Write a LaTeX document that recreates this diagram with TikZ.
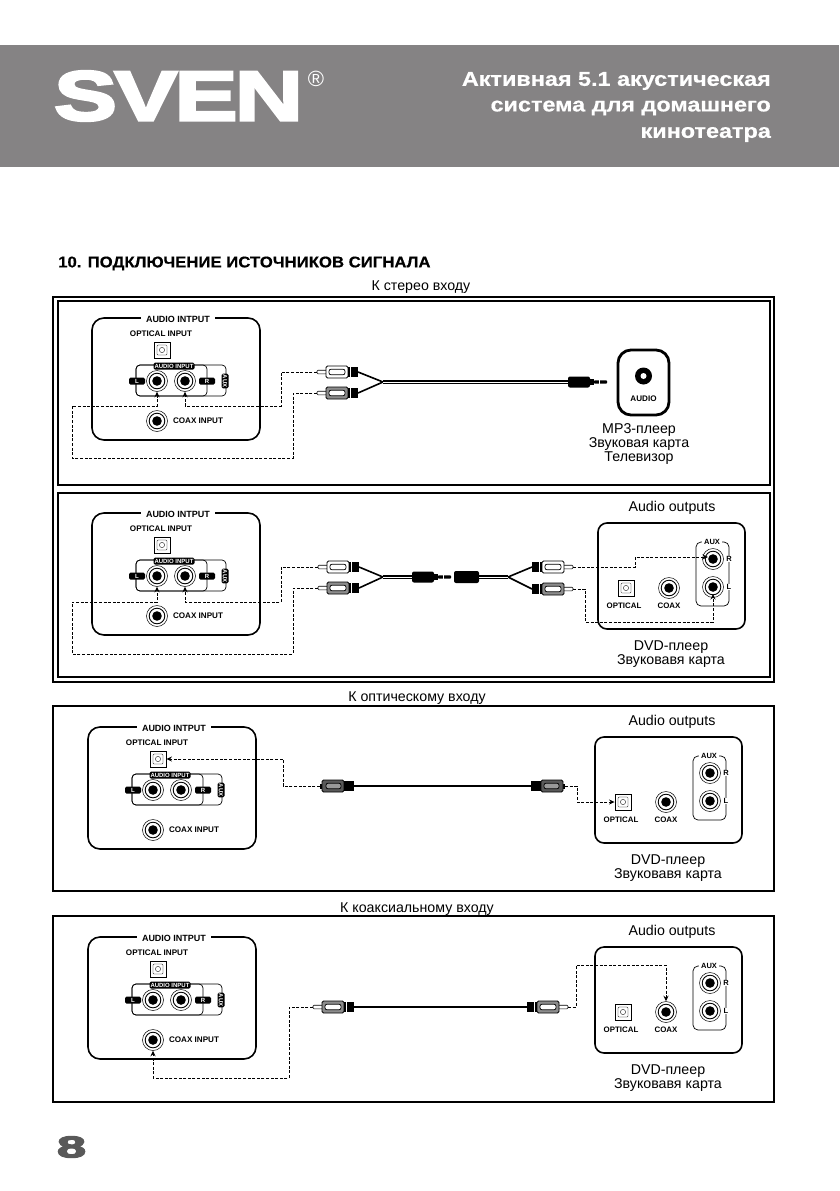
\documentclass[tikz,border=0pt]{standalone}
\usepackage{fontspec}
\setmainfont{Liberation Sans}
\newfontfamily\logofont[FakeStretch=1.35,FakeBold=4,LetterSpace=-4]{Liberation Sans Bold}
\newfontfamily\headfont[FakeStretch=1.17,FakeBold=.6]{Liberation Sans Bold}
\newfontfamily\sectfont[FakeStretch=1.08,FakeBold=.4]{Liberation Sans Bold}
\usepackage{tikz}
\usetikzlibrary{shapes,shapes.geometric,arrows,arrows.meta,fit,calc,positioning}
\newcommand{\fsz}[1]{\fontsize{#1}{#1}\selectfont}
\definecolor{bandgrey}{HTML}{858384}
\definecolor{pluggrey}{HTML}{8C8C8C}
\tikzstyle{lbl}=[inner sep=0pt, font=\bfseries\fsz{8.1}]
\tikzstyle{txt}=[inner sep=0pt, yshift=-1.2pt, font=\fsz{14.2}]
\tikzstyle{tagbox}=[fill=black, text=white, rounded corners=1.5pt, inner sep=1pt, font=\bfseries\fsz{6}]
\tikzstyle{dashline}=[-{Stealth[length=5.5pt,width=5pt]}, line width=.8pt, dash pattern=on 3pt off 1.6pt]
\tikzstyle{dwire}=[line width=1.4pt, double=white, double distance=.9pt]
\tikzstyle{swire}=[line width=1.6pt]
\tikzset{
  jack/.style={circle, draw, line width=.5pt, inner sep=0pt, minimum size=21pt,
    path picture={\draw[line width=.9pt] (path picture bounding box.center) circle (7.8pt);
      \fill (path picture bounding box.center) circle (4.8pt);}},
  optsq/.style={rectangle, draw, line width=.9pt, inner sep=0pt, minimum size=16pt,
    path picture={\draw[line width=.35pt, rounded corners=1pt] ([shift={(-5pt,-5pt)}]path picture bounding box.center) rectangle ([shift={(5pt,5pt)}]path picture bounding box.center);
      \draw[line width=.35pt] (path picture bounding box.center) circle (2.6pt);}},
  inpanel/.pic={
    \draw[line width=1.6pt, rounded corners=12pt] (0,0) rectangle (168,122);
    \draw[line width=.7pt, rounded corners=4pt] (44,47) rectangle (134,78);
    \draw[line width=.7pt, rounded corners=4pt] (44,47) rectangle (115,78);
    \node[lbl, fill=white, inner xsep=5pt, font=\bfseries\fsz{9}] (-title) at (86,1) {AUDIO INTPUT};
    \node[lbl] (-optlbl) at (69,16) {OPTICAL INPUT};
    \node[optsq] (-opt) at (70,32) {};
    \node[tagbox, minimum height=7pt, inner ysep=.5pt] (-ainp) at (82,48) {AUDIO INPUT};
    \node[jack] (-L) at (65,63) {};
    \node[jack] (-R) at (93,63) {};
    \node[tagbox, minimum width=16pt, minimum height=7pt] (-Ltag) at (45,63) {L};
    \node[tagbox, minimum width=16pt, minimum height=7pt] (-Rtag) at (115,63) {R};
    \node[tagbox, rotate=-90, minimum height=7pt] (-aux) at (133,63) {AUX};
    \node[jack] (-coax) at (65,103) {};
    \node[lbl] (-coaxlbl) at (106,102.5) {COAX INPUT};
  },
  outpanel/.pic={
    \draw[line width=1.6pt, rounded corners=9pt] (0,0) rectangle (147,106);
    \draw[line width=.7pt, rounded corners=5pt] (98,19) rectangle (131,83);
    \node[lbl, fill=white, inner xsep=2pt, font=\bfseries\fsz{7.5}] (-auxlbl) at (114,18.5) {AUX};
    \node[jack] (-R) at (115,36) {};
    \node[jack] (-L) at (115,64) {};
    \node[lbl, fill=white, inner xsep=1pt, font=\bfseries\fsz{7.5}] (-Rlbl) at (131,36) {R};
    \node[lbl, fill=white, inner xsep=1pt, font=\bfseries\fsz{7.5}] (-Llbl) at (131,64) {L};
    \node[optsq] (-opt) at (28,65) {};
    \node[lbl, font=\bfseries\fsz{7.9}] (-optlbl) at (26,83) {OPTICAL};
    \node[jack] (-coax) at (71,65) {};
    \node[lbl, font=\bfseries\fsz{7.9}] (-coaxlbl) at (71,83) {COAX};
    \coordinate (-Rin) at (110,34);
    \coordinate (-Lin) at (115,71);
  },
  rca/.pic={
    \draw[line width=.6pt, fill=white, rounded corners=1pt] (0,-1.8) rectangle (10,1.8);
    \draw[line width=.8pt, fill=#1, rounded corners=1.5pt] (9,-6) rectangle (31,6);
    \draw[line width=.7pt, fill=white, rounded corners=2pt] (12,-2.8) rectangle (28,2.8);
    \fill (31,-5) rectangle (41,5);
    \fill[white] (33,-5) rectangle (33.7,5);
    \coordinate (-tip) at (0,0);
    \coordinate (-end) at (41,0);
  },
  toslink/.pic={
    \fill (0,-2.5) rectangle (3,2.5);
    \draw[line width=.8pt, fill=black!65, rounded corners=1.5pt] (2,-6) rectangle (24,6);
    \draw[line width=.7pt, fill=black!40, rounded corners=2pt] (6,-2.8) rectangle (21,2.8);
    \fill (24,-5) rectangle (34,5);
    \coordinate (-tip) at (0,0);
    \coordinate (-end) at (34,0);
  },
  minijack/.pic={
    \fill[rounded corners=2pt] (0,-5.5) rectangle (22,5.5);
    \fill (22,-3) rectangle (26,3);
    \fill[rounded corners=.8pt] (26,-1.7) rectangle (39,1.7);
    \fill[white] (31,-1.7) rectangle (31.8,1.7);
    \coordinate (-in) at (0,0);
  }
}
\begin{document}
\begin{tikzpicture}[x=1pt, y=-1pt]
\useasboundingbox (0,0) rectangle (839,1191);
\fill[bandgrey] (0,45) rectangle (839,167);
\node[text=white, inner sep=0pt, font=\logofont\fsz{70}] (logo) at (178.5,96) {SVEN};
\node[text=white, inner sep=0pt, font=\fsz{22}] (regmark) at (316,79) {®};
\node[text=white, anchor=east, inner sep=0pt, font=\headfont\fsz{20}] (head1) at (771,81) {Активная 5.1 акустическая};
\node[text=white, anchor=east, inner sep=0pt, font=\headfont\fsz{20}] (head2) at (771,108) {система для домашнего};
\node[text=white, anchor=east, inner sep=0pt, font=\headfont\fsz{20}] (head3) at (771,134.5) {кинотеатра};
\node[anchor=west, inner sep=0pt, font=\sectfont\fsz{15.5}] (sect) at (58,263.5) {10. ПОДКЛЮЧЕНИЕ ИСТОЧНИКОВ СИГНАЛА};
\node[txt] (cap1) at (421,286) {К стерео входу};
\node[txt] (cap2) at (417,696.5) {К оптическому входу};
\node[txt] (cap3) at (417,908) {К коаксиальному входу};
\draw[line width=1.3pt] (53,297) rectangle (774,682);
\draw[line width=1.8pt] (58,301) rectangle (770,485);
\draw[line width=1.8pt] (58,493) rectangle (770,677);
\draw[line width=1.5pt] (53,706) rectangle (774,891);
\draw[line width=1.5pt] (53,916) rectangle (774,1102);
\foreach \nm/\xx/\yy in {ina/92/318, inb/92/513, inc/88/727, ind/88/937}
  \pic (\nm) at (\xx,\yy) {inpanel};
\foreach \nm/\xx/\yy in {outb/598/523, outc/595/737, outd/595/947}
  \pic (\nm) at (\xx,\yy) {outpanel};
% stereo, mini jack
\pic (pwa) at (317,372) {rca=white};
\pic (pga) at (317,393) {rca=pluggrey};
\pic (mja) at (568,382) {minijack};
\coordinate (ya) at (383,382);
\draw[swire] (pwa-end) -- (ya) (pga-end) -- (ya);
\draw[dwire] (ya) -- (mja-in);
\draw[dashline] (pwa-tip) -- ++(-36,0) -- ++(0,34) -| (ina-R.south);
\draw[dashline] (pga-tip) -- ++(-24,0) -- ++(0,65) -- ++(-221,0) -- ++(0,-52) -| (ina-L.south);
\node[draw, line width=2.8pt, rounded corners=13pt, minimum width=51pt, minimum height=65pt] (audiobox) at (643.5,382.5) {};
\node[circle, fill=black, inner sep=0pt, minimum size=17pt] (audiojack) at (643.5,376) {};
\node[circle, fill=white, inner sep=0pt, minimum size=6pt] (audiohole) at (643.5,376) {};
\node[lbl] (audiolbl) at (643.5,399) {AUDIO};
\node[txt] (deva1) at (639,429) {MP3-плеер};
\node[txt] (deva2) at (639,443) {Звуковая карта};
\node[txt] (deva3) at (639,457) {Телевизор};
% stereo, dvd
\pic (pwb) at (318,567) {rca=white};
\pic (pgb) at (318,588) {rca=pluggrey};
\pic (mjb) at (412,577) {minijack};
\coordinate (yb) at (383,577);
\draw[swire] (pwb-end) -- (yb) (pgb-end) -- (yb);
\draw[dwire] (yb) -- (mjb-in);
\node[fill=black, rounded corners=2pt, inner sep=0pt, minimum width=25pt, minimum height=12pt] (sock) at (466.5,577) {};
\pic[xscale=-1] (pwr) at (573,567) {rca=white};
\pic[xscale=-1] (pgr) at (573,589) {rca=pluggrey};
\coordinate (yr) at (508,577);
\draw[swire] (pwr-end) -- (yr) (pgr-end) -- (yr);
\draw[dwire] (yr) -- (sock.east);
\draw[dashline] (pwb-tip) -- ++(-37,0) -- ++(0,35) -| (inb-R.south);
\draw[dashline] (pgb-tip) -- ++(-25,0) -- ++(0,66) -- ++(-221,0) -- ++(0,-52) -| (inb-L.south);
\draw[dashline] (pwr-tip) -- ++(62,0) |- (outb-Rin);
\draw[dashline] (pgr-tip) -- ++(12,0) -- ++(0,33) -| (outb-Lin);
\node[txt] (audb) at (672,507) {Audio outputs};
\node[txt] (devb1) at (671,646) {DVD-плеер};
\node[txt] (devb2) at (671,660) {Звуковавя карта};
% optical
\pic (pol) at (320,786) {toslink};
\pic[xscale=-1] (por) at (565,786) {toslink};
\draw[swire] (pol-end) -- (por-end);
\draw[dashline] (pol-tip) -- ++(-37,0) |- (inc-opt.east);
\draw[dashline] (por-tip) -- ++(12,0) |- (outc-opt.west);
\node[txt] (audc) at (672,721) {Audio outputs};
\node[txt] (devc1) at (668,860) {DVD-плеер};
\node[txt] (devc2) at (668,874) {Звуковавя карта};
% coax
\pic (pcl) at (313,1007) {rca=pluggrey};
\pic[xscale=-1] (pcr) at (568,1007) {rca=pluggrey};
\draw[swire] (pcl-end) -- (pcr-end);
\draw[dashline] (pcl-tip) -- ++(-24,0) -- ++(0,71) -| (ind-coax.south);
\draw[dashline] (pcr-tip) -- ++(8,0) -- ++(0,-42) -| (outd-coax.north);
\node[txt] (audd) at (672,931) {Audio outputs};
\node[txt] (devd1) at (668,1070) {DVD-плеер};
\node[txt] (devd2) at (668,1084) {Звуковавя карта};
\node[text=black!65, inner sep=0pt, font=\logofont\fsz{30}] (pageno) at (71.5,1147) {\scalebox{1.3}[1]{8}};
\end{tikzpicture}
\end{document}
